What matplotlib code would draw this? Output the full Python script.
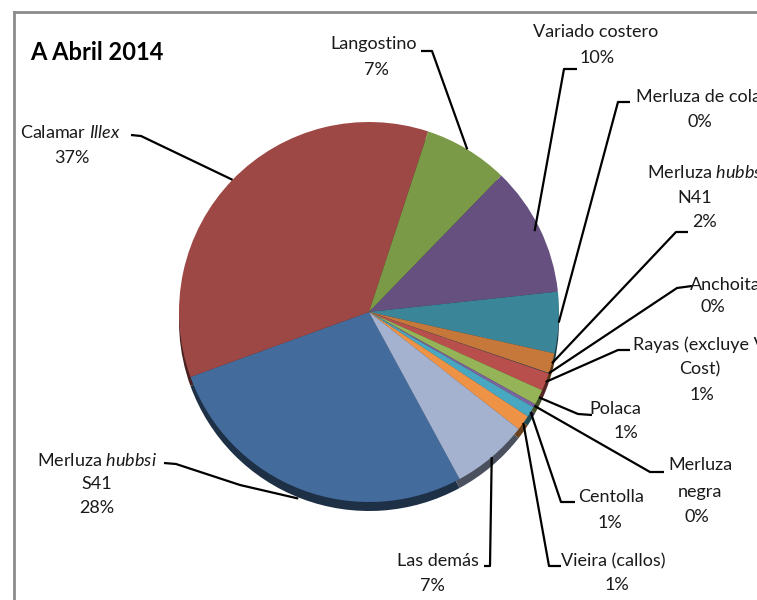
import numpy as np
import matplotlib.pyplot as plt
from matplotlib.colors import to_rgb

plt.rcParams['font.family'] = ['Lato', 'DejaVu Sans']
plt.rcParams['mathtext.fontset'] = 'custom'
plt.rcParams['mathtext.rm'] = 'Lato'
plt.rcParams['mathtext.it'] = 'Lato:italic'

# data, in the order the slices are drawn (clockwise)
species = ["Merluza hubbsi S41", "Calamar Illex", "Langostino", "Variado costero",
           "Merluza de cola", "Merluza hubbsi N41", "Anchoita", "Rayas (excluye V. Cost)",
           "Polaca", "Merluza negra", "Centolla", "Vieira (callos)", "Las demás"]
shares = [27.3, 35.5, 7.2, 11.0, 5.2, 1.7, 0.05, 1.5, 1.3, 0.3, 0.9, 1.3, 6.5]
pct_labels = ["28%", "37%", "7%", "10%", "0%", "2%", "0%", "1%", "1%", "0%", "1%", "1%", "7%"]
colors = ["#436b9b", "#9d4845", "#7b9a47", "#65507f", "#3b8599", "#c5783a", "#2c4d75",
          "#b94f4c", "#94b457", "#7b62a0", "#48a8c2", "#ee9245", "#a4b2d0"]

# label layout: text lines (x, y, text), stub from elbow to text, anchor radius factor
labels = {
    "Merluza hubbsi S41": ([(97, 460, r"Merluza $\mathit{hubbsi}$"), (97, 484, "S41"), (97, 508, "28%")],
                           [(164, 463), (176, 464), (240, 485)], 1.05),
    "Calamar Illex": ([(70, 133, r"Calamar $\mathit{Illex}$"), (72, 158, "37%")],
                      [(131, 135), (141, 136)], 1.0),
    "Langostino": ([(374, 44, "Langostino"), (376, 70, "7%")], [(421, 51), (432, 51)], 1.0),
    "Variado costero": ([(596, 32, "Variado costero"), (597, 58, "10%")], [(577, 69), (564, 69)], 0.97),
    "Merluza de cola": ([(636, 97, "Merluza de cola", 'left'), (700, 122, "0%")], [(630, 102), (618, 102)], 1.0),
    "Merluza hubbsi N41": ([(647, 173, r"Merluza $\mathit{hubbsi}$", 'left'), (695, 198, "N41"), (705, 222, "2%")],
                           [(688, 232), (676, 232)], 1.0),
    "Anchoita": ([(690, 285, "Anchoita", 'left'), (713, 307, "0%")], [(692, 286), (677, 288)], 1.0),
    "Rayas (excluye V. Cost)": ([(633, 345, "Rayas (excluye V. Cost", 'left'), (700, 369, "Cost)"), (702, 395, "1%")],
                                [(630, 350), (618, 350)], 1.0),
    "Polaca": ([(615, 409, "Polaca"), (626, 433, "1%")], [(592, 415), (578, 414)], 1.0),
    "Merluza negra": ([(700, 465, "Merluza"), (700, 492, "negra"), (697, 517, "0%")], [(664, 472), (650, 472)], 1.0),
    "Centolla": ([(611, 497, "Centolla"), (610, 523, "1%")], [(575, 502), (561, 502)], 1.0),
    "Vieira (callos)": ([(613, 561, "Vieira (callos)"), (617, 585, "1%")], [(561, 566), (549, 566)], 1.0),
    "Las demás": ([(438, 561, "Las demás"), (432, 586, "7%")], [(484, 566), (490, 566)], 1.0),
}

cx, cy, r = 369, 312, 190
start = 151.5 - 90  # first slice edge, clockwise from 12 o'clock (y axis points down)

fig = plt.figure(figsize=(7.57, 6), dpi=100)
ax = fig.add_axes([0, 0, 1, 1])

# darker copy below for the 3d rim
dark = [tuple(c * 0.45 for c in to_rgb(col)) for col in colors]
ax.pie(shares, colors=dark, startangle=start, counterclock=True, center=(cx, cy + 9), radius=r,
       wedgeprops=dict(linewidth=0))
wedges, _ = ax.pie(shares, colors=colors, startangle=start, counterclock=True, center=(cx, cy), radius=r,
                   wedgeprops=dict(linewidth=0))

ax.set_xlim(0, 757)
ax.set_ylim(600, 0)
ax.set_aspect('auto')
ax.axis('off')

for name, w in zip(species, wedges):
    lines, stub, k = labels[name]
    mid = np.deg2rad((w.theta1 + w.theta2) / 2)
    ax_pt = (cx + r * k * np.cos(mid), cy + r * k * np.sin(mid))
    xs = [p[0] for p in stub] + [ax_pt[0]]
    ys = [p[1] for p in stub] + [ax_pt[1]]
    ax.plot(xs, ys, color='black', lw=1.6, solid_capstyle='butt')
    for item in lines:
        ha = item[3] if len(item) > 3 else 'center'
        ax.text(item[0], item[1], item[2], ha=ha, va='center', fontsize=13, color='#1a1a1a')

# title and frame
ax.text(30, 52, "A Abril 2014", fontsize=17, fontweight='bold', ha='left', va='center')
ax.plot([14, 757], [12, 12], color='#8c8c8c', lw=2)
ax.plot([14, 14], [12, 600], color='#8c8c8c', lw=2)

fig.savefig("out.png", dpi=100)
